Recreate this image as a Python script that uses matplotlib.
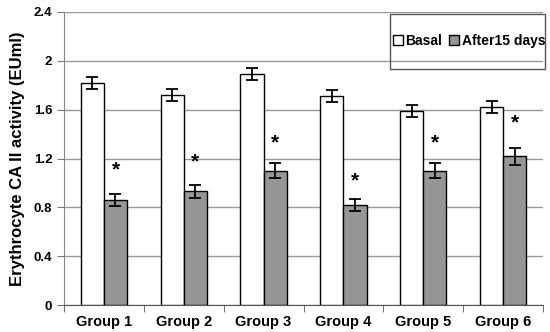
import matplotlib.pyplot as plt
from matplotlib.patches import Rectangle
import numpy as np

plt.rcParams["font.family"] = ["Liberation Sans", "DejaVu Sans"]
plt.rcParams["font.weight"] = "bold"

groups = ["Group 1", "Group 2", "Group 3", "Group 4", "Group 5", "Group 6"]
basal = [1.82, 1.72, 1.89, 1.71, 1.59, 1.62]
basal_err = [0.05, 0.05, 0.05, 0.05, 0.05, 0.05]
after = [0.86, 0.93, 1.10, 0.82, 1.10, 1.22]
after_err = [0.05, 0.05, 0.06, 0.05, 0.06, 0.07]
star_y = [1.15, 1.22, 1.37, 1.06, 1.37, 1.54]
yticks = [0, 0.4, 0.8, 1.2, 1.6, 2.0, 2.4]
ytick_labels = ["0", "0.4", "0.8", "1.2", "1.6", "2", "2.4"]

fig = plt.figure(figsize=(5.5, 3.32), dpi=100)
ax = fig.add_axes([64 / 550, 27 / 332, 479 / 550, 293 / 332])

x = np.arange(len(groups))
w = 0.29

ax.bar(x - w / 2, basal, w, color="white", edgecolor="black", linewidth=1.0,
       yerr=basal_err, capsize=4, error_kw=dict(elinewidth=1.3, capthick=1.3),
       label="Basal", zorder=3)
ax.bar(x + w / 2, after, w, color="#969696", edgecolor="black", linewidth=1.0,
       yerr=after_err, capsize=4, error_kw=dict(elinewidth=1.3, capthick=1.3),
       label="After15 days", zorder=3)

# significance stars above the after-treatment bars
for xi, sy in zip(x, star_y):
    ax.annotate("*", (xi + w / 2, sy), xytext=(0, -4), textcoords="offset points",
                ha="center", va="center", fontsize=15, fontweight="bold", zorder=4)

ax.set_xlim(-0.5, len(groups) - 0.5)
ax.set_ylim(0, 2.4)
ax.set_yticks(yticks)
ax.set_yticklabels(ytick_labels, fontsize=9.5, fontweight="bold")
ax.set_xticks(x)
ax.set_xticklabels(groups, fontsize=10.5, fontweight="bold")
ax.tick_params(axis="x", length=0, pad=7)
ax.set_xticks(np.arange(-0.5, len(groups), 1), minor=True)
ax.tick_params(axis="x", which="minor", length=5, color="#555555", direction="out")
ax.tick_params(axis="y", length=5, color="#777777", direction="out")

ax.grid(axis="y", color="#999999", linewidth=1.0, zorder=0)
ax.set_axisbelow(True)
for s in ["top", "right"]:
    ax.spines[s].set_visible(False)
ax.spines["left"].set_color("#888888")
ax.spines["bottom"].set_color("#555555")

ax.set_ylabel("Erythrocyte CA II activity (EUml)", fontsize=12, fontweight="bold", labelpad=6)

# legend box drawn separately (wide vertical padding, tight horizontal)
fig.patches.append(Rectangle((390 / 550, 263 / 332), 155 / 550, 55 / 332,
                             transform=fig.transFigure, fill=False,
                             edgecolor="#555555", linewidth=1.0))
leg = ax.legend(loc="center", bbox_to_anchor=(469 / 550, 291 / 332),
                bbox_transform=fig.transFigure, ncol=2, fontsize=10,
                frameon=False, handlelength=0.7, handleheight=0.7,
                handletextpad=0.2, columnspacing=0.5, borderpad=0,
                borderaxespad=0)

fig.savefig("out.png", dpi=100)
